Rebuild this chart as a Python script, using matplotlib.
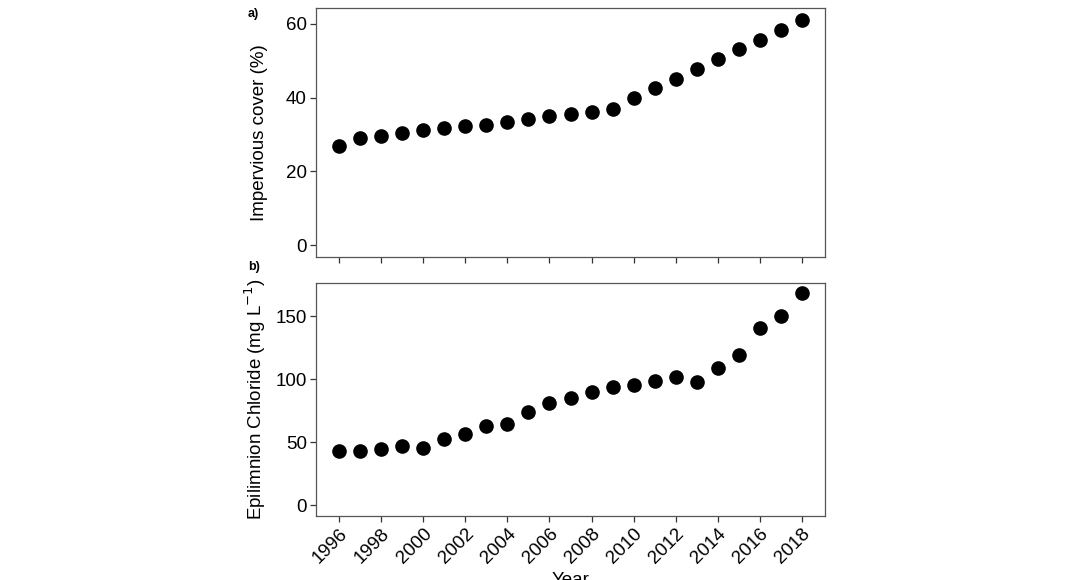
import matplotlib
matplotlib.use("Agg")
import matplotlib.pyplot as plt

plt.rcParams['font.family'] = ['Liberation Sans', 'DejaVu Sans']

years = list(range(1996, 2019))
impervious = [26.9, 29.0, 29.6, 30.4, 31.1, 31.8, 32.2, 32.6, 33.5, 34.1, 34.9, 35.5,
              36.2, 36.9, 39.9, 42.7, 45.0, 47.6, 50.4, 53.1, 55.7, 58.3, 61.1]
chloride = [43.3, 43.0, 45.1, 47.3, 45.7, 52.3, 56.3, 63.2, 64.8, 74.1, 81.0, 85.2,
            89.7, 94.0, 95.3, 98.8, 101.7, 98.2, 108.8, 119.5, 140.7, 150.5, 168.1]
xticks = list(range(1996, 2019, 2))
yticks_a = [0, 20, 40, 60]
yticks_b = [0, 50, 100, 150]

fig = plt.figure(figsize=(10.68, 5.8), dpi=100)
axa = fig.add_axes([0.2959, 0.5574, 0.4766, 0.4283])
axb = fig.add_axes([0.2959, 0.1103, 0.4766, 0.4022])

spine_col = '#555555'
for ax in (axa, axb):
    for s in ax.spines.values():
        s.set_color(spine_col)
        s.set_linewidth(0.9)
    ax.tick_params(axis='both', length=4.5, width=0.9, color='#333333',
                   labelsize=13.5, labelcolor='black', pad=2)
    ax.set_xlim(1994.9, 2019.1)
    ax.set_xticks(xticks)

axa.plot(years, impervious, 'o', color='black', markersize=9.5)
axa.set_ylim(-0.05 * 61.1, 61.1 * 1.05)
axa.set_yticks(yticks_a)
axa.set_xticklabels([])
axa.set_ylabel('Impervious cover (%)', fontsize=13.5)
axa.yaxis.set_label_coords(-0.0943, 0.5)

axb.plot(years, chloride, 'o', color='black', markersize=9.5)
axb.set_ylim(-0.05 * 168.1, 168.1 * 1.05)
axb.set_yticks(yticks_b)
axb.set_xticklabels([str(y) for y in xticks], rotation=45, ha='right',
                    rotation_mode='anchor')
axb.set_ylabel('Epilimnion Chloride (mg L$^{-1}$)', fontsize=13.5)
axb.yaxis.set_label_coords(-0.0943, 0.5)
axb.set_xlabel('Year', fontsize=13.5)
axb.xaxis.set_label_coords(0.5, -0.24)

fig.text(248 / 1068, 1 - 14 / 580, 'a)', fontsize=9, fontweight='bold',
         ha='left', va='center')
fig.text(248 / 1068, 1 - 267 / 580, 'b)', fontsize=9, fontweight='bold',
         ha='left', va='center')

fig.savefig('out.png', dpi=100)
